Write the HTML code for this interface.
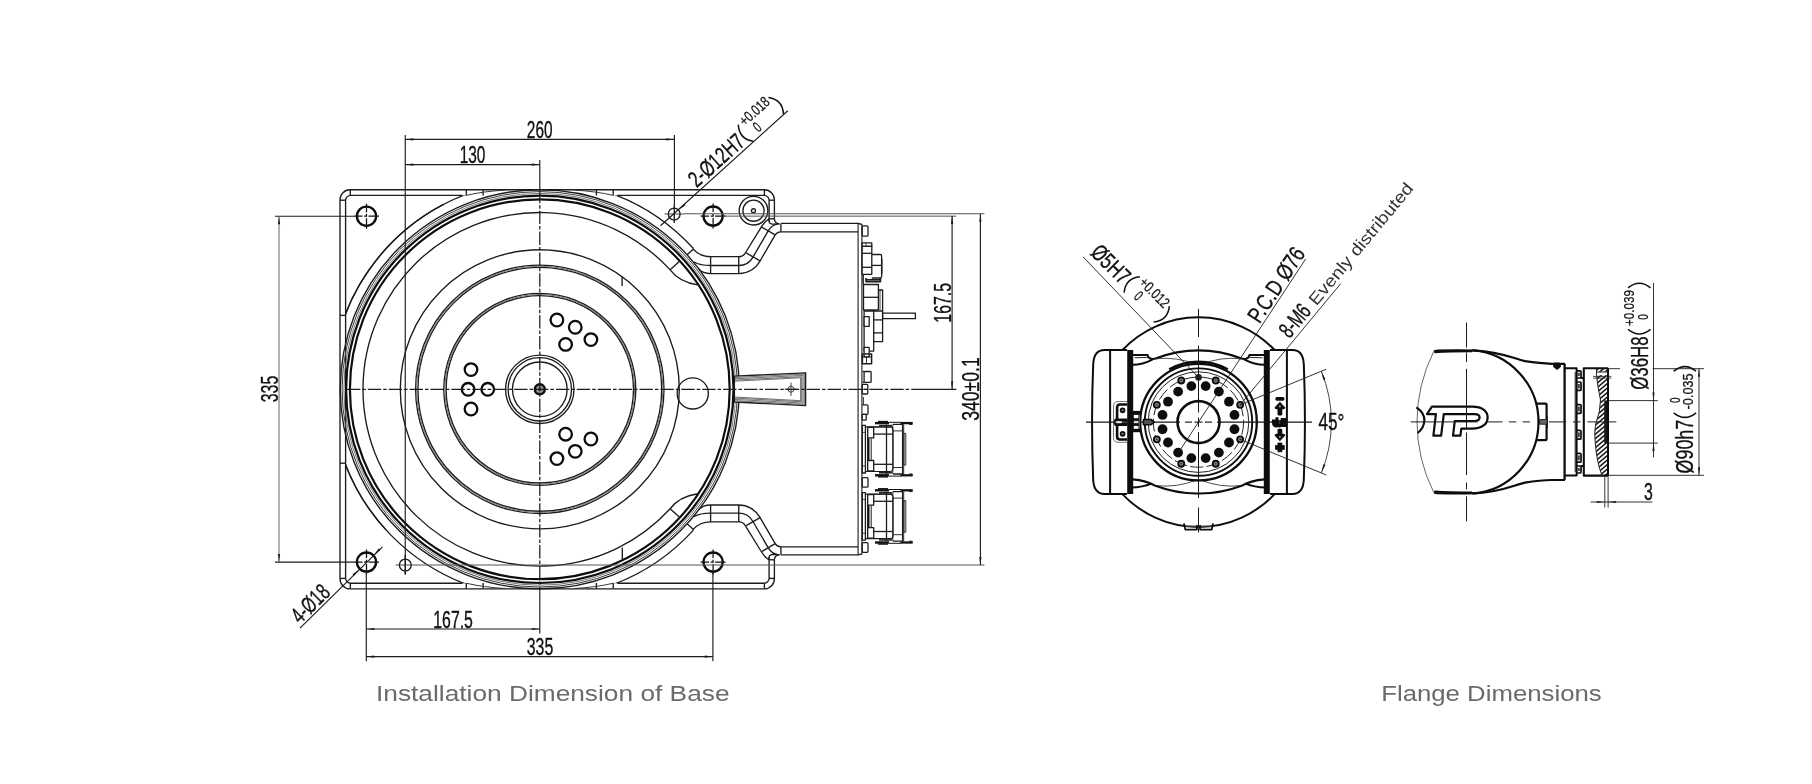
<!DOCTYPE html>
<html><head><meta charset="utf-8"><title>Dimensions</title>
<style>
html,body{margin:0;padding:0;background:#fff;}
body{width:1812px;height:784px;overflow:hidden;font-family:"Liberation Sans",sans-serif;}
svg{display:block;will-change:transform;}
</style></head><body>
<svg width="1812" height="784" viewBox="0 0 1812 784" stroke-linecap="butt" stroke-linejoin="round">
<rect x="0" y="0" width="1812" height="784" fill="#ffffff"/>
<g id="base" fill="none">
<path d="M774.4 218.8 V199.75 A10 10 0 0 0 764.4 189.75 H350 A10 10 0 0 0 340 199.75 V578.85 A10 10 0 0 0 350 588.85 H764.4 A10 10 0 0 0 774.4 578.85 V559.8" stroke="#1c1c1c" stroke-width="1.35" fill="none" />
<path d="M769.1 221.6 V200.4 A5 5 0 0 0 764.1 195.4 H617.3" stroke="#1c1c1c" stroke-width="1.35" fill="none" />
<path d="M462.5 195.4 H350.6 A5 5 0 0 0 345.6 200.4 V578.2 A5 5 0 0 0 350.6 583.2 H462.5" stroke="#1c1c1c" stroke-width="1.35" fill="none" />
<path d="M617.3 583.2 H764.1 A5 5 0 0 0 769.1 578.2 V557" stroke="#1c1c1c" stroke-width="1.35" fill="none" />
<line x1="350.3" y1="189.75" x2="350.3" y2="195.4" stroke="#1c1c1c" stroke-width="1.35" />
<line x1="764.4" y1="189.75" x2="764.4" y2="195.4" stroke="#1c1c1c" stroke-width="1.35" />
<line x1="350.3" y1="583.2" x2="350.3" y2="588.85" stroke="#1c1c1c" stroke-width="1.35" />
<line x1="764.4" y1="583.2" x2="764.4" y2="588.85" stroke="#1c1c1c" stroke-width="1.35" />
<line x1="340" y1="200.2" x2="345.6" y2="200.2" stroke="#1c1c1c" stroke-width="1.35" />
<line x1="340" y1="578.4" x2="345.6" y2="578.4" stroke="#1c1c1c" stroke-width="1.35" />
<line x1="769.1" y1="200.2" x2="774.4" y2="200.2" stroke="#1c1c1c" stroke-width="1.35" />
<line x1="769.1" y1="578.4" x2="774.4" y2="578.4" stroke="#1c1c1c" stroke-width="1.35" />
<line x1="769.1" y1="218.8" x2="774.4" y2="218.8" stroke="#1c1c1c" stroke-width="1.35" />
<line x1="769.1" y1="559.8" x2="774.4" y2="559.8" stroke="#1c1c1c" stroke-width="1.35" />
<line x1="340" y1="315.4" x2="345.6" y2="315.4" stroke="#1c1c1c" stroke-width="1.35" />
<line x1="340" y1="463.2" x2="345.6" y2="463.2" stroke="#1c1c1c" stroke-width="1.35" />
<line x1="466.3" y1="189.75" x2="466.3" y2="195.6" stroke="#1c1c1c" stroke-width="1.35" />
<line x1="466.3" y1="583" x2="466.3" y2="588.85" stroke="#1c1c1c" stroke-width="1.35" />
<line x1="483.1" y1="189.75" x2="483.1" y2="195.6" stroke="#1c1c1c" stroke-width="1.35" />
<line x1="483.1" y1="583" x2="483.1" y2="588.85" stroke="#1c1c1c" stroke-width="1.35" />
<line x1="596.4" y1="189.75" x2="596.4" y2="195.6" stroke="#1c1c1c" stroke-width="1.35" />
<line x1="596.4" y1="583" x2="596.4" y2="588.85" stroke="#1c1c1c" stroke-width="1.35" />
<line x1="613.2" y1="189.75" x2="613.2" y2="195.6" stroke="#1c1c1c" stroke-width="1.35" />
<line x1="613.2" y1="583" x2="613.2" y2="588.85" stroke="#1c1c1c" stroke-width="1.35" />
<clipPath id="plateclip"><rect x="345.6" y="195.4" width="423.5" height="387.8"/></clipPath>
<g clip-path="url(#plateclip)">
<path d="M386.15 530.09A208.4 208.4 0 0 1 443.57 204.45" stroke="#1c1c1c" stroke-width="1.35" fill="none" />
<path d="M463.42 195.4A208.4 208.4 0 0 1 693.45 248.51" stroke="#1c1c1c" stroke-width="1.35" fill="none" />
<path d="M693.45 530.09A208.4 208.4 0 0 1 463.42 583.2" stroke="#1c1c1c" stroke-width="1.35" fill="none" />
<path d="M465.12 583.86A208.4 208.4 0 0 1 343.97 460.58" stroke="#1c1c1c" stroke-width="1.35" fill="none" />
<path d="M343.97 318.02A208.4 208.4 0 0 1 465.12 194.74" stroke="#1c1c1c" stroke-width="1.35" fill="none" />
</g>
<path d="M466.3 195.4 Q483.1 191.3 505.8 190.1" stroke="#3a3a3a" stroke-width="1.0" fill="none" />
<path d="M466.3 583.2 Q483.1 587.3 505.8 588.5" stroke="#3a3a3a" stroke-width="1.0" fill="none" />
<path d="M613.3 195.4 Q596.5 191.3 573.8 190.1" stroke="#3a3a3a" stroke-width="1.0" fill="none" />
<path d="M613.3 583.2 Q596.5 587.3 573.8 588.5" stroke="#3a3a3a" stroke-width="1.0" fill="none" />
<circle cx="539.8" cy="389.3" r="199.5" stroke="#1c1c1c" stroke-width="1.4" fill="none" />
<circle cx="539.8" cy="389.3" r="197.7" stroke="#3a3a3a" stroke-width="1.0" fill="none" />
<circle cx="539.8" cy="389.3" r="195.9" stroke="#555" stroke-width="0.8" fill="none" />
<circle cx="539.8" cy="389.3" r="193.7" stroke="#0e0e0e" stroke-width="2.2" fill="none" />
<circle cx="539.8" cy="389.3" r="189.9" stroke="#0e0e0e" stroke-width="2.2" fill="none" />
<path d="M670.15 508.74A176.8 176.8 0 1 1 670.15 269.86" stroke="#1c1c1c" stroke-width="1.35" fill="none" />
<path d="M670.15 269.86Q679.43 282.16 697.57 284.87" stroke="#1c1c1c" stroke-width="1.35" fill="none" />
<path d="M670.15 508.74Q679.43 496.44 697.57 493.73" stroke="#1c1c1c" stroke-width="1.35" fill="none" />
<circle cx="539.8" cy="389.3" r="139.5" stroke="#1c1c1c" stroke-width="1.35" fill="none" />
<circle cx="539.8" cy="389.3" r="124.2" stroke="#1c1c1c" stroke-width="1.35" fill="none" />
<circle cx="539.8" cy="389.3" r="121.9" stroke="#1c1c1c" stroke-width="1.35" fill="none" />
<circle cx="539.8" cy="389.3" r="123.05" stroke="#777" stroke-width="1.0" fill="none" />
<circle cx="539.8" cy="389.3" r="96" stroke="#1c1c1c" stroke-width="1.35" fill="none" />
<circle cx="539.8" cy="389.3" r="93.7" stroke="#1c1c1c" stroke-width="1.35" fill="none" />
<circle cx="539.8" cy="389.3" r="94.85" stroke="#777" stroke-width="1.0" fill="none" />
<circle cx="539.8" cy="389.3" r="34.2" stroke="#1c1c1c" stroke-width="1.35" fill="none" />
<circle cx="539.8" cy="389.3" r="31.7" stroke="#1c1c1c" stroke-width="1.35" fill="none" />
<circle cx="539.8" cy="389.3" r="27.3" stroke="#1c1c1c" stroke-width="1.35" fill="none" />
<circle cx="539.8" cy="389.3" r="5.1" stroke="#0c0c0c" stroke-width="2.2" fill="#666" />
<circle cx="539.8" cy="389.3" r="2.7" stroke="#d0d0d0" stroke-width="0.9" fill="#4a4a4a" />
<circle cx="539.8" cy="389.3" r="1" stroke="#1c1c1c" stroke-width="0" fill="#ddd" />
<line x1="670.15" y1="508.74" x2="679.81" y2="517.59" stroke="#1c1c1c" stroke-width="1.35" />
<line x1="687.12" y1="523.82" x2="693.69" y2="529.82" stroke="#1c1c1c" stroke-width="1.35" />
<line x1="670.15" y1="269.86" x2="679.81" y2="261.01" stroke="#1c1c1c" stroke-width="1.35" />
<line x1="687.12" y1="254.78" x2="693.69" y2="248.78" stroke="#1c1c1c" stroke-width="1.35" />
<line x1="622.1" y1="276.5" x2="622.1" y2="286.1" stroke="#1c1c1c" stroke-width="1.35" />
<line x1="622.3" y1="547.6" x2="622.3" y2="559.2" stroke="#1c1c1c" stroke-width="1.35" />
<circle cx="556.9" cy="320" r="6.3" stroke="#0c0c0c" stroke-width="2.3" fill="none" />
<circle cx="575.25" cy="327.25" r="6.3" stroke="#0c0c0c" stroke-width="2.3" fill="none" />
<circle cx="590.9" cy="339.6" r="6.3" stroke="#0c0c0c" stroke-width="2.3" fill="none" />
<circle cx="565.6" cy="344.4" r="6.3" stroke="#0c0c0c" stroke-width="2.3" fill="none" />
<circle cx="556.9" cy="458.6" r="6.3" stroke="#0c0c0c" stroke-width="2.3" fill="none" />
<circle cx="575.25" cy="451.35" r="6.3" stroke="#0c0c0c" stroke-width="2.3" fill="none" />
<circle cx="590.9" cy="439" r="6.3" stroke="#0c0c0c" stroke-width="2.3" fill="none" />
<circle cx="565.6" cy="434.2" r="6.3" stroke="#0c0c0c" stroke-width="2.3" fill="none" />
<circle cx="471" cy="369.6" r="6.3" stroke="#0c0c0c" stroke-width="2.3" fill="none" />
<circle cx="468.1" cy="389.3" r="6.3" stroke="#0c0c0c" stroke-width="2.3" fill="none" />
<circle cx="487.75" cy="389.3" r="6.3" stroke="#0c0c0c" stroke-width="2.3" fill="none" />
<circle cx="471" cy="409" r="6.3" stroke="#0c0c0c" stroke-width="2.3" fill="none" />
<circle cx="692.75" cy="393.4" r="15.6" stroke="#1c1c1c" stroke-width="1.35" fill="none" />
<path d="M734.4 376.2 L805.6 372.8 V405.7 L734.4 402 Z" stroke="#1c1c1c" stroke-width="1.35" fill="#fff" />
<path d="M734.4 377.5 L804.3 374.1 V404.4 L734.4 400.7" stroke="#333" stroke-width="0.7" fill="none" />
<path d="M734.4 378.8 L803 375.4 V403.1 L734.4 399.4" stroke="#333" stroke-width="0.7" fill="none" />
<path d="M734.4 380.1 L801.7 376.7 V401.8 L734.4 398.1" stroke="#333" stroke-width="0.7" fill="none" />
<path d="M734.4 381.2 L800.6 377.8 V400.7 L734.4 397" stroke="#333" stroke-width="0.7" fill="none" />
<circle cx="791" cy="389.2" r="3" stroke="#1c1c1c" stroke-width="0.8" fill="none" />
<line x1="784.5" y1="389.2" x2="797.5" y2="389.2" stroke="#1c1c1c" stroke-width="0.8" />
<line x1="791" y1="382.5" x2="791" y2="396" stroke="#1c1c1c" stroke-width="0.8" />
<line x1="734.4" y1="376.2" x2="734.4" y2="402" stroke="#1c1c1c" stroke-width="1.2" />
<circle cx="366.5" cy="216.2" r="9.6" stroke="#0c0c0c" stroke-width="2.3" fill="none" />
<line x1="354" y1="216.2" x2="379" y2="216.2" stroke="#111" stroke-width="1.25" stroke-dasharray="8.5 1.6 2.8 1.6 11 0"/>
<line x1="366.5" y1="203.7" x2="366.5" y2="228.7" stroke="#111" stroke-width="1.25" stroke-dasharray="8.5 1.6 2.8 1.6 11 0"/>
<circle cx="713.1" cy="216.1" r="9.6" stroke="#0c0c0c" stroke-width="2.3" fill="none" />
<line x1="700.6" y1="216.1" x2="725.6" y2="216.1" stroke="#111" stroke-width="1.25" stroke-dasharray="8.5 1.6 2.8 1.6 11 0"/>
<line x1="713.1" y1="203.6" x2="713.1" y2="228.6" stroke="#111" stroke-width="1.25" stroke-dasharray="8.5 1.6 2.8 1.6 11 0"/>
<circle cx="366.5" cy="562.1" r="9.6" stroke="#0c0c0c" stroke-width="2.3" fill="none" />
<line x1="354" y1="562.1" x2="379" y2="562.1" stroke="#111" stroke-width="1.25" stroke-dasharray="8.5 1.6 2.8 1.6 11 0"/>
<line x1="366.5" y1="549.6" x2="366.5" y2="574.6" stroke="#111" stroke-width="1.25" stroke-dasharray="8.5 1.6 2.8 1.6 11 0"/>
<circle cx="713.1" cy="562.1" r="9.6" stroke="#0c0c0c" stroke-width="2.3" fill="none" />
<line x1="700.6" y1="562.1" x2="725.6" y2="562.1" stroke="#111" stroke-width="1.25" stroke-dasharray="8.5 1.6 2.8 1.6 11 0"/>
<line x1="713.1" y1="549.6" x2="713.1" y2="574.6" stroke="#111" stroke-width="1.25" stroke-dasharray="8.5 1.6 2.8 1.6 11 0"/>
<circle cx="674.2" cy="214" r="5.9" stroke="#1c1c1c" stroke-width="1.35" fill="none" />
<circle cx="405.3" cy="565" r="5.9" stroke="#1c1c1c" stroke-width="1.35" fill="none" />
<line x1="664.5" y1="214" x2="684" y2="214" stroke="#1c1c1c" stroke-width="0.8" />
<line x1="674.3" y1="204" x2="674.3" y2="223" stroke="#1c1c1c" stroke-width="1.35" />
<line x1="395.6" y1="565" x2="415" y2="565" stroke="#1c1c1c" stroke-width="0.8" />
<line x1="405.3" y1="555" x2="405.3" y2="574.6" stroke="#1c1c1c" stroke-width="1.35" />
<circle cx="753.5" cy="210.7" r="14.3" stroke="#1c1c1c" stroke-width="1.35" fill="none" />
<circle cx="753.5" cy="210.7" r="10.6" stroke="#1c1c1c" stroke-width="1.35" fill="none" />
<circle cx="753.5" cy="210.7" r="2" stroke="#1c1c1c" stroke-width="1.35" fill="none" />
<path d="M698.6 509.6 Q703 505 710.6 505 H738.75 A24.3 24.3 0 0 1 760.06 517.6 L775.2 543.7 Q777 546.8 780.9 546.8" stroke="#1c1c1c" stroke-width="1.35" fill="none" />
<path d="M693.9 516.6 Q700 513.1 710.6 513.1 H738.75 A16.2 16.2 0 0 1 752.96 521.5 L768.3 547.9 Q772 554.6 779.5 554.8" stroke="#1c1c1c" stroke-width="1.35" fill="none" />
<path d="M692.9 529.6 Q700 521.9 710.6 521.9 H738.75 A7.4 7.4 0 0 1 745.3 525.6 L761.4 551.75 Q765 557.6 769.1 559.8" stroke="#1c1c1c" stroke-width="1.35" fill="none" />
<path d="M774.4 559.8 Q774.6 555 779.5 554.8" stroke="#1c1c1c" stroke-width="1.35" fill="none" />
<path d="M769.1 559.8 V557.4 Q769.3 554.5 773 554.4 L777.5 554.8" stroke="#1c1c1c" stroke-width="1.35" fill="none" />
<line x1="710.6" y1="505" x2="710.6" y2="521.9" stroke="#1c1c1c" stroke-width="1.35" />
<line x1="738.75" y1="505" x2="738.75" y2="521.9" stroke="#1c1c1c" stroke-width="1.35" />
<line x1="746.1" y1="525.7" x2="760.5" y2="517.4" stroke="#1c1c1c" stroke-width="1.35" />
<line x1="761.4" y1="551.75" x2="775.2" y2="543.7" stroke="#1c1c1c" stroke-width="1.35" />
<line x1="780.9" y1="546.8" x2="780.9" y2="554.8" stroke="#1c1c1c" stroke-width="1.35" />
<g transform="matrix(1,0,0,-1,0,778.6)">
<path d="M698.6 509.6 Q703 505 710.6 505 H738.75 A24.3 24.3 0 0 1 760.06 517.6 L775.2 543.7 Q777 546.8 780.9 546.8" stroke="#1c1c1c" stroke-width="1.35" fill="none" />
<path d="M693.9 516.6 Q700 513.1 710.6 513.1 H738.75 A16.2 16.2 0 0 1 752.96 521.5 L768.3 547.9 Q772 554.6 779.5 554.8" stroke="#1c1c1c" stroke-width="1.35" fill="none" />
<path d="M692.9 529.6 Q700 521.9 710.6 521.9 H738.75 A7.4 7.4 0 0 1 745.3 525.6 L761.4 551.75 Q765 557.6 769.1 559.8" stroke="#1c1c1c" stroke-width="1.35" fill="none" />
<path d="M774.4 559.8 Q774.6 555 779.5 554.8" stroke="#1c1c1c" stroke-width="1.35" fill="none" />
<path d="M769.1 559.8 V557.4 Q769.3 554.5 773 554.4 L777.5 554.8" stroke="#1c1c1c" stroke-width="1.35" fill="none" />
<line x1="710.6" y1="505" x2="710.6" y2="521.9" stroke="#1c1c1c" stroke-width="1.35" />
<line x1="738.75" y1="505" x2="738.75" y2="521.9" stroke="#1c1c1c" stroke-width="1.35" />
<line x1="746.1" y1="525.7" x2="760.5" y2="517.4" stroke="#1c1c1c" stroke-width="1.35" />
<line x1="761.4" y1="551.75" x2="775.2" y2="543.7" stroke="#1c1c1c" stroke-width="1.35" />
<line x1="780.9" y1="546.8" x2="780.9" y2="554.8" stroke="#1c1c1c" stroke-width="1.35" />
</g>
<line x1="780.9" y1="223.3" x2="858.1" y2="223.3" stroke="#1c1c1c" stroke-width="1.35" />
<line x1="780.9" y1="231.8" x2="858.1" y2="231.8" stroke="#1c1c1c" stroke-width="1.35" />
<line x1="780.9" y1="546.8" x2="858.1" y2="546.8" stroke="#1c1c1c" stroke-width="1.35" />
<line x1="780.9" y1="554.8" x2="858.1" y2="554.8" stroke="#1c1c1c" stroke-width="1.35" />
<line x1="858.1" y1="222.8" x2="858.1" y2="555.3" stroke="#1c1c1c" stroke-width="1.1" />
<line x1="861.9" y1="224" x2="861.9" y2="554.5" stroke="#1c1c1c" stroke-width="1.1" />
<line x1="858.1" y1="223.3" x2="861.9" y2="224.5" stroke="#1c1c1c" stroke-width="1.35" />
<line x1="858.1" y1="554.8" x2="861.9" y2="553.8" stroke="#1c1c1c" stroke-width="1.35" />
<line x1="346.9" y1="389.3" x2="912" y2="389.3" stroke="#1c1c1c" stroke-width="1.25" stroke-dasharray="13.4 2 3.5 2"/>
<line x1="912" y1="389.3" x2="956.4" y2="389.3" stroke="#1c1c1c" stroke-width="1.15" />
<line x1="539.8" y1="189.75" x2="539.8" y2="590" stroke="#1c1c1c" stroke-width="1.25" stroke-dasharray="13.4 2 3.5 2"/>
<line x1="539.8" y1="590" x2="539.8" y2="633.5" stroke="#1c1c1c" stroke-width="1.15" />
<line x1="405.25" y1="135" x2="405.25" y2="574.6" stroke="#1c1c1c" stroke-width="1.15" />
<line x1="674.4" y1="135" x2="674.4" y2="204" stroke="#1c1c1c" stroke-width="1.15" />
<line x1="539.8" y1="160" x2="539.8" y2="189.75" stroke="#1c1c1c" stroke-width="1.15" />
<line x1="405.25" y1="139.4" x2="674.4" y2="139.4" stroke="#1c1c1c" stroke-width="1.15" />
<polygon points="405.25,139.4 413.25,138.3 413.25,140.5" fill="#1c1c1c"/>
<polygon points="674.4,139.4 666.4,140.5 666.4,138.3" fill="#1c1c1c"/>
<line x1="405.25" y1="164.6" x2="539.8" y2="164.6" stroke="#1c1c1c" stroke-width="1.15" />
<polygon points="405.25,164.6 413.25,163.5 413.25,165.7" fill="#1c1c1c"/>
<polygon points="539.8,164.6 531.8,165.7 531.8,163.5" fill="#1c1c1c"/>
<text transform="translate(539.7,138.4) rotate(0) scale(0.67,1)" font-family="Liberation Sans" font-size="23" font-weight="normal" text-anchor="middle" fill="#111" stroke="#111" stroke-width="0.35">260</text>
<text transform="translate(472.5,163.4) rotate(0) scale(0.67,1)" font-family="Liberation Sans" font-size="23" font-weight="normal" text-anchor="middle" fill="#111" stroke="#111" stroke-width="0.35">130</text>
<line x1="275" y1="216.2" x2="354" y2="216.2" stroke="#1c1c1c" stroke-width="1.15" />
<line x1="275" y1="562.1" x2="354" y2="562.1" stroke="#1c1c1c" stroke-width="1.15" />
<line x1="279" y1="216.2" x2="279" y2="562.1" stroke="#555" stroke-width="0.9" />
<polygon points="279,216.2 280.1,224.2 277.9,224.2" fill="#1c1c1c"/>
<polygon points="279,562.1 277.9,554.1 280.1,554.1" fill="#1c1c1c"/>
<text transform="translate(277.6,389) rotate(-90) scale(0.69,1)" font-family="Liberation Sans" font-size="23" font-weight="normal" text-anchor="middle" fill="#111" stroke="#111" stroke-width="0.35">335</text>
<line x1="366.3" y1="571" x2="366.3" y2="661.3" stroke="#1c1c1c" stroke-width="1.15" />
<line x1="712.9" y1="571" x2="712.9" y2="661.3" stroke="#1c1c1c" stroke-width="1.15" />
<line x1="366.3" y1="629" x2="539.8" y2="629" stroke="#1c1c1c" stroke-width="1.15" />
<polygon points="366.3,629 374.3,627.9 374.3,630.1" fill="#1c1c1c"/>
<polygon points="539.8,629 531.8,630.1 531.8,627.9" fill="#1c1c1c"/>
<line x1="366.3" y1="656.6" x2="712.9" y2="656.6" stroke="#1c1c1c" stroke-width="1.15" />
<polygon points="366.3,656.6 374.3,655.5 374.3,657.7" fill="#1c1c1c"/>
<polygon points="712.9,656.6 704.9,657.7 704.9,655.5" fill="#1c1c1c"/>
<text transform="translate(453.1,627.6) rotate(0) scale(0.69,1)" font-family="Liberation Sans" font-size="23" font-weight="normal" text-anchor="middle" fill="#111" stroke="#111" stroke-width="0.35">167.5</text>
<text transform="translate(540,655.4) rotate(0) scale(0.69,1)" font-family="Liberation Sans" font-size="23" font-weight="normal" text-anchor="middle" fill="#111" stroke="#111" stroke-width="0.35">335</text>
<line x1="684" y1="213.75" x2="984.4" y2="213.75" stroke="#555" stroke-width="1.0" />
<line x1="723" y1="216.15" x2="956.3" y2="216.15" stroke="#555" stroke-width="1.0" />
<line x1="415" y1="565" x2="984.4" y2="565" stroke="#555" stroke-width="1.0" />
<line x1="952.1" y1="216.1" x2="952.1" y2="389.3" stroke="#1c1c1c" stroke-width="1.15" />
<polygon points="952.1,216.1 953.2,224.1 951,224.1" fill="#1c1c1c"/>
<polygon points="952.1,389.3 951,381.3 953.2,381.3" fill="#1c1c1c"/>
<line x1="980.4" y1="213.75" x2="980.4" y2="565" stroke="#1c1c1c" stroke-width="1.15" />
<polygon points="980.4,213.75 981.5,221.75 979.3,221.75" fill="#1c1c1c"/>
<polygon points="980.4,565 979.3,557 981.5,557" fill="#1c1c1c"/>
<text transform="translate(950.6,302.8) rotate(-90) scale(0.69,1)" font-family="Liberation Sans" font-size="23" font-weight="normal" text-anchor="middle" fill="#111" stroke="#111" stroke-width="0.35">167.5</text>
<text transform="translate(978.8,389) rotate(-90) scale(1,1)" font-family="Liberation Sans" font-size="23" font-weight="normal" text-anchor="middle" fill="#111" stroke="#111" stroke-width="0.35" textLength="63.5" lengthAdjust="spacingAndGlyphs">340±0.1</text>
<line x1="660.5" y1="225.7" x2="787.8" y2="110.8" stroke="#1c1c1c" stroke-width="1.15" />
<polygon points="678.8,209.85 684,203.67 685.48,205.3" fill="#1c1c1c"/>
<g transform="translate(696.82,188.33) rotate(-42.07)" font-family="Liberation Sans" fill="#111" stroke="#111">
<text x="0" y="0" font-size="23" stroke-width="0.35" textLength="66.5" lengthAdjust="spacingAndGlyphs">2-Ø12H7</text>
<path d="M73.5 -19.5 Q64.3 -8.3 73.5 2.9" stroke-width="1.5" fill="none"/>
<text x="76.9" y="-13.6" font-size="15" stroke-width="0.25" textLength="35" lengthAdjust="spacingAndGlyphs">+0.018</text>
<text x="83.03" y="0" font-size="15" stroke-width="0.25" textLength="5.6" lengthAdjust="spacingAndGlyphs">0</text>
<path d="M114.1 -19.5 Q123.3 -8.3 114.1 2.9" stroke-width="1.5" fill="none"/>
</g>
<line x1="382.5" y1="546.9" x2="300" y2="628.1" stroke="#1c1c1c" stroke-width="1.15" />
<polygon points="373.99,554.74 378.92,548.35 380.47,549.92" fill="#1c1c1c"/>
<polygon points="359.01,569.46 354.08,575.85 352.53,574.28" fill="#1c1c1c"/>
<text transform="translate(300,624.6) rotate(-44.5) scale(0.69,1)" font-family="Liberation Sans" font-size="23" font-weight="normal" text-anchor="start" fill="#111" stroke="#111" stroke-width="0.35">4-Ø18</text>
<rect x="862.2" y="225.9" width="5.8" height="10.3" rx="1" stroke="#1c1c1c" stroke-width="1.3" fill="none"/>
<rect x="862" y="242.8" width="9.8" height="3.5" rx="0" stroke="#1c1c1c" stroke-width="1.3" fill="none"/>
<line x1="866" y1="242.8" x2="866" y2="246.3" stroke="#1c1c1c" stroke-width="0.8" />
<rect x="862" y="246.3" width="9.8" height="28" rx="0" stroke="#1c1c1c" stroke-width="1.3" fill="none"/>
<line x1="862" y1="253.3" x2="871.8" y2="253.3" stroke="#1c1c1c" stroke-width="1.3" />
<line x1="862" y1="267.3" x2="871.8" y2="267.3" stroke="#1c1c1c" stroke-width="1.3" />
<path d="M871.8 254.5 H880.3 Q881.6 254.5 881.6 256 V276.5 Q881.6 278 880.3 278 H871.8" stroke="#1c1c1c" stroke-width="1.3" fill="none" />
<line x1="871.8" y1="265.4" x2="881.6" y2="265.4" stroke="#1c1c1c" stroke-width="1.3" />
<line x1="881.9" y1="259" x2="881.9" y2="274" stroke="#1c1c1c" stroke-width="1.2" />
<path d="M866 278 V281.6 H880.5 V278" stroke="#1c1c1c" stroke-width="1.6" fill="none" />
<line x1="866" y1="279.8" x2="880.5" y2="279.8" stroke="#1c1c1c" stroke-width="1.6" />
<line x1="863.2" y1="275" x2="863.2" y2="284" stroke="#1c1c1c" stroke-width="1.4" />
<rect x="863.5" y="284.5" width="14.9" height="25.5" rx="0" stroke="#1c1c1c" stroke-width="1.3" fill="none"/>
<line x1="863.5" y1="297.3" x2="878.4" y2="297.3" stroke="#1c1c1c" stroke-width="1.3" />
<path d="M878.4 290 H882.6 V311" stroke="#1c1c1c" stroke-width="1.3" fill="none" />
<line x1="880" y1="290" x2="880" y2="310" stroke="#1c1c1c" stroke-width="0.8" />
<rect x="873.7" y="311" width="8.9" height="30.6" rx="0" stroke="#1c1c1c" stroke-width="1.3" fill="none"/>
<line x1="873.7" y1="319.9" x2="882.6" y2="319.9" stroke="#1c1c1c" stroke-width="1.3" />
<line x1="873.7" y1="332.9" x2="882.6" y2="332.9" stroke="#1c1c1c" stroke-width="1.3" />
<path d="M873.7 311 H864.1 V351.1 H873.7 V341.6" stroke="#1c1c1c" stroke-width="1.3" fill="none" />
<rect x="864.1" y="316.7" width="5.1" height="9.6" rx="0" stroke="#1c1c1c" stroke-width="1.3" fill="#fff"/>
<rect x="882.6" y="313.2" width="32.8" height="5.4" rx="0" stroke="#1c1c1c" stroke-width="1.3" fill="none"/>
<rect x="864.1" y="347.3" width="5.1" height="9.6" rx="0" stroke="#1c1c1c" stroke-width="1.3" fill="#fff"/>
<rect x="862.4" y="353.9" width="9.2" height="9.8" rx="0" stroke="#1c1c1c" stroke-width="1.5" fill="none"/>
<line x1="866.5" y1="357" x2="866.5" y2="363.7" stroke="#1c1c1c" stroke-width="0.9" />
<line x1="862.4" y1="357" x2="871.6" y2="357" stroke="#1c1c1c" stroke-width="0.9" />
<rect x="864.1" y="371.5" width="7" height="10.9" rx="1" stroke="#1c1c1c" stroke-width="1.3" fill="none"/>
<line x1="862.6" y1="371.5" x2="864.1" y2="371.5" stroke="#1c1c1c" stroke-width="1.35" />
<line x1="862.6" y1="382.4" x2="864.1" y2="382.4" stroke="#1c1c1c" stroke-width="1.35" />
<rect x="862.2" y="384.4" width="5.6" height="9.6" rx="1" stroke="#1c1c1c" stroke-width="1.3" fill="none"/>
<line x1="862.2" y1="389.3" x2="867.8" y2="389.3" stroke="#1c1c1c" stroke-width="0.8" />
<path d="M862.2 404.9 H866.8 Q868 404.9 868 406.2 V413.2 Q868 414.4 866.8 414.4 H862.2" stroke="#1c1c1c" stroke-width="1.3" fill="none" />
<rect x="862.2" y="414.4" width="4" height="5.8" rx="0.8" stroke="#1c1c1c" stroke-width="1.3" fill="none"/>
<line x1="863.4" y1="397" x2="863.4" y2="404.9" stroke="#1c1c1c" stroke-width="0.9" />
<line x1="875" y1="423.1" x2="889" y2="423.1" stroke="#111" stroke-width="2.4" />
<line x1="875" y1="475.3" x2="889" y2="475.3" stroke="#111" stroke-width="2.4" />
<line x1="889" y1="422.3" x2="901" y2="422.3" stroke="#111" stroke-width="1.0" />
<line x1="889" y1="476.1" x2="901" y2="476.1" stroke="#111" stroke-width="1.0" />
<line x1="900.5" y1="423.1" x2="912" y2="423.1" stroke="#111" stroke-width="2.3" />
<line x1="900.5" y1="475.3" x2="912" y2="475.3" stroke="#111" stroke-width="2.3" />
<line x1="878" y1="421.6" x2="888" y2="421.6" stroke="#111" stroke-width="1.5" />
<line x1="878" y1="476.8" x2="888" y2="476.8" stroke="#111" stroke-width="1.5" />
<path d="M909 424.4 L912.3 424.4 L912.3 422" stroke="#1c1c1c" stroke-width="1.0" fill="none" />
<path d="M909 474 L912.3 474 L912.3 476.4" stroke="#1c1c1c" stroke-width="1.0" fill="none" />
<line x1="879" y1="425.6" x2="892" y2="425.6" stroke="#222" stroke-width="1.6" />
<line x1="879" y1="472.8" x2="892" y2="472.8" stroke="#222" stroke-width="1.6" />
<rect x="862.3" y="425.4" width="3.1" height="47.6" rx="0" stroke="#1c1c1c" stroke-width="1.3" fill="none"/>
<path d="M865.4 426.9 H890 Q893 426.9 893 430.4 V468 Q893 471.5 890 471.5 H865.4" stroke="#1c1c1c" stroke-width="1.2" fill="none" />
<line x1="867.7" y1="426.9" x2="867.7" y2="471.5" stroke="#1c1c1c" stroke-width="1.3" />
<line x1="886.5" y1="424.4" x2="886.5" y2="474" stroke="#1c1c1c" stroke-width="1.3" />
<line x1="892.8" y1="424.4" x2="892.8" y2="474" stroke="#1c1c1c" stroke-width="0.9" />
<path d="M893 424.4 H902.6 V474 H893" stroke="#1c1c1c" stroke-width="1.3" fill="none" />
<line x1="903.7" y1="424.4" x2="903.7" y2="474" stroke="#1c1c1c" stroke-width="0.9" />
<line x1="893" y1="430.9" x2="902.6" y2="430.9" stroke="#1c1c1c" stroke-width="0.9" />
<line x1="893" y1="467.5" x2="902.6" y2="467.5" stroke="#1c1c1c" stroke-width="0.9" />
<rect x="904" y="433.4" width="1.8" height="31.6" rx="0" stroke="#1c1c1c" stroke-width="0.9" fill="none"/>
<line x1="873.7" y1="434.1" x2="892.8" y2="434.1" stroke="#1c1c1c" stroke-width="1.3" />
<line x1="873.7" y1="464.3" x2="892.8" y2="464.3" stroke="#1c1c1c" stroke-width="1.3" />
<line x1="867.7" y1="427.1" x2="892.8" y2="427.1" stroke="#1c1c1c" stroke-width="0.9" />
<rect x="867.7" y="427.4" width="6" height="10.5" rx="0" stroke="#1c1c1c" stroke-width="1.3" fill="#fff"/>
<rect x="867.7" y="460.5" width="6" height="10.5" rx="0" stroke="#1c1c1c" stroke-width="1.3" fill="#fff"/>
<line x1="868.7" y1="438.4" x2="868.7" y2="460" stroke="#111" stroke-width="1.6" />
<line x1="871.2" y1="438.4" x2="871.2" y2="460" stroke="#1c1c1c" stroke-width="1.0" />
<line x1="862.3" y1="432.4" x2="865.4" y2="432.4" stroke="#1c1c1c" stroke-width="0.8" />
<line x1="862.3" y1="466" x2="865.4" y2="466" stroke="#1c1c1c" stroke-width="0.8" />
<rect x="862.2" y="477.7" width="5.8" height="9.5" rx="1" stroke="#1c1c1c" stroke-width="1.3" fill="none"/>
<line x1="875" y1="490.3" x2="889" y2="490.3" stroke="#111" stroke-width="2.4" />
<line x1="875" y1="542.5" x2="889" y2="542.5" stroke="#111" stroke-width="2.4" />
<line x1="889" y1="489.5" x2="901" y2="489.5" stroke="#111" stroke-width="1.0" />
<line x1="889" y1="543.3" x2="901" y2="543.3" stroke="#111" stroke-width="1.0" />
<line x1="900.5" y1="490.3" x2="912" y2="490.3" stroke="#111" stroke-width="2.3" />
<line x1="900.5" y1="542.5" x2="912" y2="542.5" stroke="#111" stroke-width="2.3" />
<line x1="878" y1="488.8" x2="888" y2="488.8" stroke="#111" stroke-width="1.5" />
<line x1="878" y1="544" x2="888" y2="544" stroke="#111" stroke-width="1.5" />
<path d="M909 491.6 L912.3 491.6 L912.3 489.2" stroke="#1c1c1c" stroke-width="1.0" fill="none" />
<path d="M909 541.2 L912.3 541.2 L912.3 543.6" stroke="#1c1c1c" stroke-width="1.0" fill="none" />
<line x1="879" y1="492.8" x2="892" y2="492.8" stroke="#222" stroke-width="1.6" />
<line x1="879" y1="540" x2="892" y2="540" stroke="#222" stroke-width="1.6" />
<rect x="862.3" y="492.6" width="3.1" height="47.6" rx="0" stroke="#1c1c1c" stroke-width="1.3" fill="none"/>
<path d="M865.4 494.1 H890 Q893 494.1 893 497.6 V535.2 Q893 538.7 890 538.7 H865.4" stroke="#1c1c1c" stroke-width="1.2" fill="none" />
<line x1="867.7" y1="494.1" x2="867.7" y2="538.7" stroke="#1c1c1c" stroke-width="1.3" />
<line x1="886.5" y1="491.6" x2="886.5" y2="541.2" stroke="#1c1c1c" stroke-width="1.3" />
<line x1="892.8" y1="491.6" x2="892.8" y2="541.2" stroke="#1c1c1c" stroke-width="0.9" />
<path d="M893 491.6 H902.6 V541.2 H893" stroke="#1c1c1c" stroke-width="1.3" fill="none" />
<line x1="903.7" y1="491.6" x2="903.7" y2="541.2" stroke="#1c1c1c" stroke-width="0.9" />
<line x1="893" y1="498.1" x2="902.6" y2="498.1" stroke="#1c1c1c" stroke-width="0.9" />
<line x1="893" y1="534.7" x2="902.6" y2="534.7" stroke="#1c1c1c" stroke-width="0.9" />
<rect x="904" y="500.6" width="1.8" height="31.6" rx="0" stroke="#1c1c1c" stroke-width="0.9" fill="none"/>
<line x1="873.7" y1="501.3" x2="892.8" y2="501.3" stroke="#1c1c1c" stroke-width="1.3" />
<line x1="873.7" y1="531.5" x2="892.8" y2="531.5" stroke="#1c1c1c" stroke-width="1.3" />
<line x1="867.7" y1="494.3" x2="892.8" y2="494.3" stroke="#1c1c1c" stroke-width="0.9" />
<rect x="867.7" y="494.6" width="6" height="10.5" rx="0" stroke="#1c1c1c" stroke-width="1.3" fill="#fff"/>
<rect x="867.7" y="527.7" width="6" height="10.5" rx="0" stroke="#1c1c1c" stroke-width="1.3" fill="#fff"/>
<line x1="868.7" y1="505.6" x2="868.7" y2="527.2" stroke="#111" stroke-width="1.6" />
<line x1="871.2" y1="505.6" x2="871.2" y2="527.2" stroke="#1c1c1c" stroke-width="1.0" />
<line x1="862.3" y1="499.6" x2="865.4" y2="499.6" stroke="#1c1c1c" stroke-width="0.8" />
<line x1="862.3" y1="533.2" x2="865.4" y2="533.2" stroke="#1c1c1c" stroke-width="0.8" />
<rect x="862.2" y="542.6" width="5.8" height="9.7" rx="1" stroke="#1c1c1c" stroke-width="1.3" fill="none"/>
</g>
<g id="flange" fill="none">
<path d="M1122.44 350 A104.8 104.8 0 0 1 1274.56 350" stroke="#0d0d0d" stroke-width="2.0" fill="none" />
<path d="M1122.16 493.9 A104.8 104.8 0 0 0 1274.84 493.9" stroke="#0d0d0d" stroke-width="2.0" fill="none" />
<path d="M1127 350 H1104.5 Q1094 350 1093.2 364 Q1090.9 422 1093.2 480 Q1094 493.9 1104.5 493.9 H1127" stroke="#0d0d0d" stroke-width="2.0" fill="none" />
<line x1="1130.2" y1="350" x2="1130.2" y2="493.9" stroke="#0d0d0d" stroke-width="6.0" />
<line x1="1110.1" y1="350" x2="1110.1" y2="493.9" stroke="#0d0d0d" stroke-width="2.0" />
<path d="M1270 350 H1292.5 Q1303 350 1303.8 364 Q1306.1 422 1303.8 480 Q1303 493.9 1292.5 493.9 H1270" stroke="#0d0d0d" stroke-width="2.0" fill="none" />
<line x1="1266.8" y1="350" x2="1266.8" y2="493.9" stroke="#0d0d0d" stroke-width="6.0" />
<line x1="1286.9" y1="350" x2="1286.9" y2="493.9" stroke="#0d0d0d" stroke-width="2.0" />
<path d="M1132.5 355 H1147.5 L1148.7 357.6 Q1152 359.8 1155.5 358.6 Q1176.5 350.4 1198.5 350.4 Q1220.5 350.4 1241.5 358.6 Q1245 359.8 1248.3 357.6 L1249.5 355 H1264.5" stroke="#0d0d0d" stroke-width="2.1" fill="none" />
<path d="M1132.5 364.8 Q1142.5 364.6 1152.5 359.6" stroke="#0d0d0d" stroke-width="2.0" fill="none" />
<path d="M1147.5 357.4 L1134.5 357.8" stroke="#0d0d0d" stroke-width="0.9" fill="none" />
<path d="M1155.5 358.8 Q1176.5 356.5 1196.5 364.5" stroke="#222" stroke-width="0.8" fill="none" />
<path d="M1264.5 364.8 Q1254.5 364.6 1244.5 359.6" stroke="#0d0d0d" stroke-width="2.0" fill="none" />
<path d="M1249.5 357.4 L1262.5 357.8" stroke="#0d0d0d" stroke-width="0.9" fill="none" />
<path d="M1241.5 358.8 Q1220.5 356.5 1200.5 364.5" stroke="#222" stroke-width="0.8" fill="none" />
<path d="M1132.5 479.4 Q1146.5 480.6 1155.5 485.8 Q1176.5 493.8 1198.5 493.5 Q1220.5 493.8 1241.5 485.8 Q1250.5 480.6 1264.5 479.4" stroke="#0d0d0d" stroke-width="2.1" fill="none" />
<path d="M1131.5 487.6 Q1142.5 487.2 1151.5 483.6" stroke="#0d0d0d" stroke-width="2.0" fill="none" />
<path d="M1155.5 485.6 Q1176.5 488 1196.5 480" stroke="#222" stroke-width="0.8" fill="none" />
<path d="M1265.5 487.6 Q1254.5 487.2 1245.5 483.6" stroke="#0d0d0d" stroke-width="2.0" fill="none" />
<path d="M1241.5 485.6 Q1220.5 488 1200.5 480" stroke="#222" stroke-width="0.8" fill="none" />
<circle cx="1198.5" cy="422.1" r="58.3" stroke="#0d0d0d" stroke-width="2.3" fill="none" />
<circle cx="1198.5" cy="422.1" r="53.7" stroke="#0d0d0d" stroke-width="1.9" fill="none" />
<circle cx="1198.5" cy="422.1" r="50.3" stroke="#0d0d0d" stroke-width="0.9" fill="none" />
<path d="M1169.22 369.27A60.4 60.4 0 0 1 1227.78 369.27" stroke="#0d0d0d" stroke-width="2.4" fill="none" />
<circle cx="1198.5" cy="422.1" r="45.1" stroke="#0d0d0d" stroke-width="0.9" fill="none" stroke-dasharray="13 3.5"/>
<circle cx="1198.5" cy="422.1" r="21" stroke="#0d0d0d" stroke-width="2.6" fill="none" />
<circle cx="1234.49" cy="429.26" r="4.9" stroke="#0d0d0d" stroke-width="0" fill="#0d0d0d" />
<circle cx="1229.01" cy="442.49" r="4.9" stroke="#0d0d0d" stroke-width="0" fill="#0d0d0d" />
<circle cx="1218.89" cy="452.61" r="4.9" stroke="#0d0d0d" stroke-width="0" fill="#0d0d0d" />
<circle cx="1205.66" cy="458.09" r="4.9" stroke="#0d0d0d" stroke-width="0" fill="#0d0d0d" />
<circle cx="1191.34" cy="458.09" r="4.9" stroke="#0d0d0d" stroke-width="0" fill="#0d0d0d" />
<circle cx="1178.11" cy="452.61" r="4.9" stroke="#0d0d0d" stroke-width="0" fill="#0d0d0d" />
<circle cx="1167.99" cy="442.49" r="4.9" stroke="#0d0d0d" stroke-width="0" fill="#0d0d0d" />
<circle cx="1162.51" cy="429.26" r="4.9" stroke="#0d0d0d" stroke-width="0" fill="#0d0d0d" />
<circle cx="1162.51" cy="414.94" r="4.9" stroke="#0d0d0d" stroke-width="0" fill="#0d0d0d" />
<circle cx="1167.99" cy="401.71" r="4.9" stroke="#0d0d0d" stroke-width="0" fill="#0d0d0d" />
<circle cx="1178.11" cy="391.59" r="4.9" stroke="#0d0d0d" stroke-width="0" fill="#0d0d0d" />
<circle cx="1191.34" cy="386.11" r="4.9" stroke="#0d0d0d" stroke-width="0" fill="#0d0d0d" />
<circle cx="1205.66" cy="386.11" r="4.9" stroke="#0d0d0d" stroke-width="0" fill="#0d0d0d" />
<circle cx="1218.89" cy="391.59" r="4.9" stroke="#0d0d0d" stroke-width="0" fill="#0d0d0d" />
<circle cx="1229.01" cy="401.71" r="4.9" stroke="#0d0d0d" stroke-width="0" fill="#0d0d0d" />
<circle cx="1234.49" cy="414.94" r="4.9" stroke="#0d0d0d" stroke-width="0" fill="#0d0d0d" />
<circle cx="1240.17" cy="439.36" r="3" stroke="#0d0d0d" stroke-width="1.9" fill="#8a8a8a" />
<circle cx="1240.17" cy="439.36" r="0.9" stroke="#0d0d0d" stroke-width="0" fill="#333" />
<circle cx="1215.76" cy="463.77" r="3" stroke="#0d0d0d" stroke-width="1.9" fill="#8a8a8a" />
<circle cx="1215.76" cy="463.77" r="0.9" stroke="#0d0d0d" stroke-width="0" fill="#333" />
<circle cx="1181.24" cy="463.77" r="3" stroke="#0d0d0d" stroke-width="1.9" fill="#8a8a8a" />
<circle cx="1181.24" cy="463.77" r="0.9" stroke="#0d0d0d" stroke-width="0" fill="#333" />
<circle cx="1156.83" cy="439.36" r="3" stroke="#0d0d0d" stroke-width="1.9" fill="#8a8a8a" />
<circle cx="1156.83" cy="439.36" r="0.9" stroke="#0d0d0d" stroke-width="0" fill="#333" />
<circle cx="1156.83" cy="404.84" r="3" stroke="#0d0d0d" stroke-width="1.9" fill="#8a8a8a" />
<circle cx="1156.83" cy="404.84" r="0.9" stroke="#0d0d0d" stroke-width="0" fill="#333" />
<circle cx="1181.24" cy="380.43" r="3" stroke="#0d0d0d" stroke-width="1.9" fill="#8a8a8a" />
<circle cx="1181.24" cy="380.43" r="0.9" stroke="#0d0d0d" stroke-width="0" fill="#333" />
<circle cx="1215.76" cy="380.43" r="3" stroke="#0d0d0d" stroke-width="1.9" fill="#8a8a8a" />
<circle cx="1215.76" cy="380.43" r="0.9" stroke="#0d0d0d" stroke-width="0" fill="#333" />
<circle cx="1240.17" cy="404.84" r="3" stroke="#0d0d0d" stroke-width="1.9" fill="#8a8a8a" />
<circle cx="1240.17" cy="404.84" r="0.9" stroke="#0d0d0d" stroke-width="0" fill="#333" />
<circle cx="1198.5" cy="377.4" r="3.3" stroke="#0d0d0d" stroke-width="0" fill="#222" />
<line x1="1086" y1="422.1" x2="1180" y2="422.1" stroke="#141414" stroke-width="1.15" />
<line x1="1185" y1="422.1" x2="1192" y2="422.1" stroke="#141414" stroke-width="1.15" />
<line x1="1194.5" y1="422.1" x2="1202.5" y2="422.1" stroke="#141414" stroke-width="1.15" />
<line x1="1205" y1="422.1" x2="1212" y2="422.1" stroke="#141414" stroke-width="1.15" />
<line x1="1217" y1="422.1" x2="1311.9" y2="422.1" stroke="#141414" stroke-width="1.15" />
<line x1="1198.5" y1="308.8" x2="1198.5" y2="337" stroke="#161616" stroke-width="1.05" />
<line x1="1198.5" y1="345.6" x2="1198.5" y2="412.5" stroke="#161616" stroke-width="1.05" />
<line x1="1198.5" y1="417.5" x2="1198.5" y2="427" stroke="#161616" stroke-width="1.05" />
<line x1="1198.5" y1="432" x2="1198.5" y2="498" stroke="#161616" stroke-width="1.05" />
<line x1="1198.5" y1="507.5" x2="1198.5" y2="532.5" stroke="#161616" stroke-width="1.05" />
<path d="M1127 401.5 H1118 Q1113.5 401.5 1113.5 406 V437.8 Q1113.5 442.3 1118 442.3 H1127" stroke="#777" stroke-width="1.0" fill="none" />
<path d="M1127 404.5 H1120 Q1117.1 404.5 1117.1 407.5 V436.5 Q1117.1 439.5 1120 439.5 H1127" stroke="#0d0d0d" stroke-width="2.6" fill="none" />
<path d="M1113.2 422.2 L1115 418.6 H1127.5 V425.9 H1115 Z" fill="#0d0d0d"/>
<ellipse cx="1118.9" cy="422.2" rx="3.3" ry="1.1" fill="#e8e8e8"/>
<line x1="1122.2" y1="422.2" x2="1127" y2="422.2" stroke="#444" stroke-width="1.6" />
<circle cx="1122.6" cy="410.3" r="2" stroke="#0d0d0d" stroke-width="1.7" fill="#777" />
<circle cx="1122.6" cy="433.8" r="2" stroke="#0d0d0d" stroke-width="1.7" fill="#777" />
<rect x="1133" y="410.9" width="7.6" height="21.3" fill="#0d0d0d"/>
<rect x="1133.8" y="414.9" width="4.6" height="3.3" fill="#fff"/>
<rect x="1133.8" y="420.9" width="4.6" height="2.3" fill="#ddd"/>
<rect x="1133.8" y="425.9" width="4.6" height="2.9" fill="#fff"/>
<line x1="1139.3" y1="414.5" x2="1139.3" y2="429" stroke="#aaa" stroke-width="0.6" />
<path d="M1143.4 419.5 H1151 L1154.3 422.1 L1151 424.7 H1143.4 Z" fill="#555" stroke="#0d0d0d" stroke-width="1.6" stroke-linejoin="round"/>
<rect x="1275.3000000000002" y="397.1" width="9.2" height="3.6" rx="1.6" fill="#0d0d0d"/>
<path d="M1279.9 401.7 L1285.2 407.4 Q1285.2 409.2 1283.5 409.2 H1282.3000000000002 V414.2 Q1282.3000000000002 415.4 1281.1000000000001 415.4 H1278.7 Q1277.5 415.4 1277.5 414.2 V409.2 H1276.3000000000002 Q1274.6000000000001 409.2 1274.6000000000001 407.4 Z" fill="#0d0d0d"/>
<circle cx="1279.9" cy="406.4" r="0.9" stroke="#0d0d0d" stroke-width="0" fill="#bbb" />
<path d="M1271.9 419.4 H1275.5 V417.3 H1278.5 V420 H1280.7 V418 H1286.5 V427 H1280.7 Q1279.9 428 1278.5 427 Q1275.9 428.4 1273.5 426.6 Q1271.9 425 1271.9 422.5 Z" fill="#0d0d0d"/>
<line x1="1279.6" y1="420.5" x2="1279.6" y2="424.5" stroke="#999" stroke-width="0.7" stroke-dasharray="1 1"/>
<path d="M1279.9 441.2 L1285.2 435.5 Q1285.2 433.8 1283.5 433.8 H1282.3000000000002 V430 Q1282.3000000000002 428.8 1281.1000000000001 428.8 H1278.7 Q1277.5 428.8 1277.5 430 V433.8 H1276.3000000000002 Q1274.6000000000001 433.8 1274.6000000000001 435.5 Z" fill="#0d0d0d"/>
<circle cx="1279.9" cy="436.8" r="0.9" stroke="#0d0d0d" stroke-width="0" fill="#bbb" />
<path d="M1277.9 443 H1281.9 V445.4 H1284.3000000000002 V449.4 H1281.9 V451.8 H1277.9 V449.4 H1275.5 V445.4 H1277.9 Z" fill="#0d0d0d" stroke="#0d0d0d" stroke-width="0.8" stroke-linejoin="round"/>
<path d="M1183.9 523.4 L1185.3 529.6 H1196.9 V525" stroke="#0d0d0d" stroke-width="1.8" fill="none" />
<path d="M1213.1 523.4 L1211.7 529.6 H1200.1 V525" stroke="#0d0d0d" stroke-width="1.8" fill="none" />
<line x1="1185.5" y1="526.2" x2="1196.5" y2="526.2" stroke="#555" stroke-width="0.8" />
<line x1="1211.5" y1="526.2" x2="1200.5" y2="526.2" stroke="#555" stroke-width="0.8" />
<line x1="1240.17" y1="404.84" x2="1326.27" y2="369.17" stroke="#1c1c1c" stroke-width="0.9" />
<line x1="1240.17" y1="439.36" x2="1326.27" y2="475.03" stroke="#1c1c1c" stroke-width="0.9" />
<path d="M1321.28 371.24A132.9 132.9 0 0 1 1321.28 472.96" stroke="#333" stroke-width="0.9" fill="none" />
<polygon points="1321.28,371.24 1325.47,379.29 1323.41,380.06" fill="#1c1c1c"/>
<polygon points="1321.28,472.96 1323.41,464.14 1325.47,464.91" fill="#1c1c1c"/>
<text transform="translate(1318.5,430.3) rotate(0) scale(1,1)" font-family="Liberation Sans" font-size="23" font-weight="normal" text-anchor="start" fill="#111" stroke="#111" stroke-width="0.35" textLength="26" lengthAdjust="spacingAndGlyphs">45°</text>
<line x1="1180.38" y1="449.68" x2="1305.67" y2="258.95" stroke="#1c1c1c" stroke-width="0.9" />
<text transform="translate(1259.46,324.55) rotate(-56.7) scale(1,1)" font-family="Liberation Sans" font-size="23" font-weight="normal" text-anchor="start" fill="#111" stroke="#111" stroke-width="0.35" textLength="85" lengthAdjust="spacingAndGlyphs">P.C.D Ø76</text>
<line x1="1240.17" y1="404.84" x2="1340.6" y2="283.75" stroke="#1c1c1c" stroke-width="0.9" />
<text transform="translate(1289.44,339.17) rotate(-50.33) scale(1,1)" font-family="Liberation Sans" font-size="23" font-weight="normal" text-anchor="start" fill="#111" stroke="#111" stroke-width="0.35" textLength="35.6" lengthAdjust="spacingAndGlyphs">8-M6</text>
<text transform="translate(1316.57,306.46) rotate(-50.33) scale(1,1)" font-family="Liberation Sans" font-size="17" font-weight="normal" text-anchor="start" fill="#333" textLength="153" lengthAdjust="spacingAndGlyphs">Evenly distributed</text>
<line x1="1083.1" y1="256.9" x2="1198.5" y2="377.4" stroke="#1c1c1c" stroke-width="0.9" />
<g transform="translate(1089.4,253.8) rotate(45)" font-family="Liberation Sans" fill="#111" stroke="#111">
<text x="0" y="0" font-size="23" stroke-width="0.35" textLength="45" lengthAdjust="spacingAndGlyphs">Ø5H7</text>
<path d="M52 -19.5 Q42.8 -8.3 52 2.9" stroke-width="1.5" fill="none"/>
<text x="55.4" y="-13.6" font-size="15" stroke-width="0.25" textLength="36" lengthAdjust="spacingAndGlyphs">+0.012</text>
<text x="61.7" y="0" font-size="15" stroke-width="0.25" textLength="5.6" lengthAdjust="spacingAndGlyphs">0</text>
<path d="M93.6 -19.5 Q102.8 -8.3 93.6 2.9" stroke-width="1.5" fill="none"/>
</g>
</g>
<g id="side" fill="none">
<path d="M1434 351.4 L1437 350.7 Q1455 350.2 1475 350.6 C1500 351.5 1512 358 1525 361.2 Q1540 363.6 1552 363.8 H1565" stroke="#0d0d0d" stroke-width="2.2" fill="none" />
<path d="M1434.5 352.2 Q1450 351.3 1472 351.2" stroke="#0d0d0d" stroke-width="2.0" fill="none" />
<path d="M1434 492.4 L1437 493.1 Q1455 493.6 1475 493.2 C1500 492.3 1512 485.8 1525 482.6 Q1540 480.2 1552 480 H1565" stroke="#0d0d0d" stroke-width="2.2" fill="none" />
<path d="M1434.5 491.6 Q1450 492.5 1472 492.6" stroke="#0d0d0d" stroke-width="2.0" fill="none" />
<path d="M1553.6 363 H1559.4 Q1560.4 363 1560.4 364 V367 L1557.2 369.6 L1553.6 367 Z" fill="#0d0d0d" stroke="#0d0d0d" stroke-width="0.8"/>
<path d="M1433.8 351.3 A157 157 0 0 0 1433.8 492.5" stroke="#555" stroke-width="0.9" fill="none" />
<path d="M1472.5 350.15 A72 72 0 0 1 1472.5 493.65" stroke="#0d0d0d" stroke-width="2.2" fill="none" />
<path d="M1416.4 407.4 Q1424.6 413 1424.4 420.5 Q1424 428 1417.6 433" stroke="#0d0d0d" stroke-width="2.2" fill="none" />
<path d="M1431.9 406.6 H1472.3 C1482 406.6 1487.6 411 1487.6 417.4 C1487.6 424 1482 428.6 1472.3 428.6 H1461.3 L1460.4 435.7 H1453 L1454.8 421 H1474.1 C1477.8 421 1479.6 419.6 1479.6 417.6 C1479.6 415.6 1477.8 414.2 1474.7 414.2 H1443.8 L1441.1 435.7 H1433.4 L1435.9 414.2 H1427 Z" stroke="#0d0d0d" stroke-width="2.2" fill="none" />
<path d="M1536.6 403.6 H1545.4 Q1546.6 403.6 1546.6 404.8 V439 Q1546.6 440.2 1545.4 440.2 H1536.6" stroke="#0d0d0d" stroke-width="2.2" fill="none" />
<rect x="1539.6" y="419.6" width="7.6" height="4.6" stroke="#222" stroke-width="1.0" fill="#666" />
<line x1="1547.4" y1="416" x2="1547.4" y2="428" stroke="#222" stroke-width="1.0" />
<line x1="1564.6" y1="363.8" x2="1564.6" y2="480" stroke="#0d0d0d" stroke-width="2.3" />
<path d="M1564.6 368.2 H1576.6 V475.6 H1564.6" stroke="#0d0d0d" stroke-width="2.0" fill="none" />
<line x1="1575.2" y1="372" x2="1575.2" y2="472" stroke="#0d0d0d" stroke-width="0.9" />
<path d="M1576.6 370.8 H1580 Q1581 370.8 1581 371.8 V377 Q1581 378 1580 378 H1576.6" stroke="#0d0d0d" stroke-width="1.7" fill="none" />
<rect x="1577.4" y="372.8" width="2.4" height="3.2" stroke="#0d0d0d" stroke-width="0" fill="#444" />
<path d="M1576.6 382 H1580 Q1581 382 1581 383 V389.4 Q1581 390.4 1580 390.4 H1576.6" stroke="#0d0d0d" stroke-width="1.7" fill="none" />
<rect x="1577.4" y="384" width="2.4" height="4.4" stroke="#0d0d0d" stroke-width="0" fill="#444" />
<path d="M1576.6 404.6 H1580 Q1581 404.6 1581 405.6 V412.4 Q1581 413.4 1580 413.4 H1576.6" stroke="#0d0d0d" stroke-width="1.7" fill="none" />
<rect x="1577.4" y="406.6" width="2.4" height="4.8" stroke="#0d0d0d" stroke-width="0" fill="#444" />
<path d="M1576.6 430.4 H1580 Q1581 430.4 1581 431.4 V438.2 Q1581 439.2 1580 439.2 H1576.6" stroke="#0d0d0d" stroke-width="1.7" fill="none" />
<rect x="1577.4" y="432.4" width="2.4" height="4.8" stroke="#0d0d0d" stroke-width="0" fill="#444" />
<path d="M1576.6 453.4 H1580 Q1581 453.4 1581 454.4 V461.2 Q1581 462.2 1580 462.2 H1576.6" stroke="#0d0d0d" stroke-width="1.7" fill="none" />
<rect x="1577.4" y="455.4" width="2.4" height="4.8" stroke="#0d0d0d" stroke-width="0" fill="#444" />
<path d="M1576.6 466 H1580 Q1581 466 1581 467 V472 Q1581 473 1580 473 H1576.6" stroke="#0d0d0d" stroke-width="1.7" fill="none" />
<rect x="1577.4" y="468" width="2.4" height="3" stroke="#0d0d0d" stroke-width="0" fill="#444" />
<path d="M1580.8 378 H1584 M1580.8 466 H1584" stroke="#0d0d0d" stroke-width="1.8" fill="none" />
<path d="M1608.2 368.2 H1583.8 V475.6 H1608.2" stroke="#0d0d0d" stroke-width="2.1" fill="none" />
<line x1="1608" y1="368.2" x2="1608" y2="475.6" stroke="#0d0d0d" stroke-width="2.0" />
<clipPath id="hatchclip"><path d="M1596.5 368.2 Q1596.3 376 1597.3 382 Q1598.6 391 1600.5 400 Q1600.4 412 1595.7 423.8 Q1594.2 432 1595 439.7 Q1595.6 450 1597.3 458.9 Q1599 468 1602 475.6 H1607.4 V368.2 Z"/></clipPath>
<g clip-path="url(#hatchclip)">
<line x1="1592" y1="342.4" x2="1612" y2="325.6" stroke="#161616" stroke-width="1.5" />
<line x1="1592" y1="346.9" x2="1612" y2="330.1" stroke="#161616" stroke-width="1.5" />
<line x1="1592" y1="351.4" x2="1612" y2="334.6" stroke="#161616" stroke-width="1.5" />
<line x1="1592" y1="355.9" x2="1612" y2="339.1" stroke="#161616" stroke-width="1.5" />
<line x1="1592" y1="360.4" x2="1612" y2="343.6" stroke="#161616" stroke-width="1.5" />
<line x1="1592" y1="364.9" x2="1612" y2="348.1" stroke="#161616" stroke-width="1.5" />
<line x1="1592" y1="369.4" x2="1612" y2="352.6" stroke="#161616" stroke-width="1.5" />
<line x1="1592" y1="373.9" x2="1612" y2="357.1" stroke="#161616" stroke-width="1.5" />
<line x1="1592" y1="378.4" x2="1612" y2="361.6" stroke="#161616" stroke-width="1.5" />
<line x1="1592" y1="382.9" x2="1612" y2="366.1" stroke="#161616" stroke-width="1.5" />
<line x1="1592" y1="387.4" x2="1612" y2="370.6" stroke="#161616" stroke-width="1.5" />
<line x1="1592" y1="391.9" x2="1612" y2="375.1" stroke="#161616" stroke-width="1.5" />
<line x1="1592" y1="396.4" x2="1612" y2="379.6" stroke="#161616" stroke-width="1.5" />
<line x1="1592" y1="400.9" x2="1612" y2="384.1" stroke="#161616" stroke-width="1.5" />
<line x1="1592" y1="405.4" x2="1612" y2="388.6" stroke="#161616" stroke-width="1.5" />
<line x1="1592" y1="409.9" x2="1612" y2="393.1" stroke="#161616" stroke-width="1.5" />
<line x1="1592" y1="414.4" x2="1612" y2="397.6" stroke="#161616" stroke-width="1.5" />
<line x1="1592" y1="418.9" x2="1612" y2="402.1" stroke="#161616" stroke-width="1.5" />
<line x1="1592" y1="423.4" x2="1612" y2="406.6" stroke="#161616" stroke-width="1.5" />
<line x1="1592" y1="427.9" x2="1612" y2="411.1" stroke="#161616" stroke-width="1.5" />
<line x1="1592" y1="432.4" x2="1612" y2="415.6" stroke="#161616" stroke-width="1.5" />
<line x1="1592" y1="436.9" x2="1612" y2="420.1" stroke="#161616" stroke-width="1.5" />
<line x1="1592" y1="441.4" x2="1612" y2="424.6" stroke="#161616" stroke-width="1.5" />
<line x1="1592" y1="445.9" x2="1612" y2="429.1" stroke="#161616" stroke-width="1.5" />
<line x1="1592" y1="450.4" x2="1612" y2="433.6" stroke="#161616" stroke-width="1.5" />
<line x1="1592" y1="454.9" x2="1612" y2="438.1" stroke="#161616" stroke-width="1.5" />
<line x1="1592" y1="459.4" x2="1612" y2="442.6" stroke="#161616" stroke-width="1.5" />
<line x1="1592" y1="463.9" x2="1612" y2="447.1" stroke="#161616" stroke-width="1.5" />
<line x1="1592" y1="468.4" x2="1612" y2="451.6" stroke="#161616" stroke-width="1.5" />
<line x1="1592" y1="472.9" x2="1612" y2="456.1" stroke="#161616" stroke-width="1.5" />
<line x1="1592" y1="477.4" x2="1612" y2="460.6" stroke="#161616" stroke-width="1.5" />
<line x1="1592" y1="481.9" x2="1612" y2="465.1" stroke="#161616" stroke-width="1.5" />
<line x1="1592" y1="486.4" x2="1612" y2="469.6" stroke="#161616" stroke-width="1.5" />
<line x1="1592" y1="490.9" x2="1612" y2="474.1" stroke="#161616" stroke-width="1.5" />
<line x1="1592" y1="495.4" x2="1612" y2="478.6" stroke="#161616" stroke-width="1.5" />
<line x1="1592" y1="499.9" x2="1612" y2="483.1" stroke="#161616" stroke-width="1.5" />
<line x1="1592" y1="504.4" x2="1612" y2="487.6" stroke="#161616" stroke-width="1.5" />
<line x1="1592" y1="508.9" x2="1612" y2="492.1" stroke="#161616" stroke-width="1.5" />
<line x1="1592" y1="513.4" x2="1612" y2="496.6" stroke="#161616" stroke-width="1.5" />
<line x1="1592" y1="517.9" x2="1612" y2="501.1" stroke="#161616" stroke-width="1.5" />
<line x1="1592" y1="522.4" x2="1612" y2="505.6" stroke="#161616" stroke-width="1.5" />
<line x1="1592" y1="526.9" x2="1612" y2="510.1" stroke="#161616" stroke-width="1.5" />
<line x1="1592" y1="531.4" x2="1612" y2="514.6" stroke="#161616" stroke-width="1.5" />
<line x1="1592" y1="535.9" x2="1612" y2="519.1" stroke="#161616" stroke-width="1.5" />
</g>
<path d="M1596.5 368.2 Q1596.3 376 1597.3 382 Q1598.6 391 1600.5 400 Q1600.4 412 1595.7 423.8 Q1594.2 432 1595 439.7 Q1595.6 450 1597.3 458.9 Q1599 468 1602 475.6" stroke="#222" stroke-width="1.0" fill="none" />
<rect x="1597" y="371.8" width="10" height="3.4" stroke="#0d0d0d" stroke-width="0" fill="#fff" />
<line x1="1593" y1="376.4" x2="1611.4" y2="376.4" stroke="#222" stroke-width="0.8" />
<line x1="1593" y1="378.1" x2="1611.4" y2="378.1" stroke="#222" stroke-width="0.8" />
<line x1="1596.5" y1="372" x2="1608" y2="372" stroke="#222" stroke-width="1.0" />
<line x1="1605.6" y1="400.4" x2="1605.6" y2="443.2" stroke="#1a1a1a" stroke-width="2.8" />
<line x1="1466.5" y1="322.5" x2="1466.5" y2="347.5" stroke="#1c1c1c" stroke-width="1.0" />
<line x1="1466.5" y1="352.5" x2="1466.5" y2="362" stroke="#1c1c1c" stroke-width="1.0" />
<line x1="1466.5" y1="368.8" x2="1466.5" y2="429.4" stroke="#1c1c1c" stroke-width="1.0" />
<line x1="1466.5" y1="432.5" x2="1466.5" y2="475" stroke="#1c1c1c" stroke-width="1.0" />
<line x1="1466.5" y1="482.5" x2="1466.5" y2="489.4" stroke="#1c1c1c" stroke-width="1.0" />
<line x1="1466.5" y1="496.3" x2="1466.5" y2="521.3" stroke="#1c1c1c" stroke-width="1.0" />
<line x1="1410.6" y1="421.9" x2="1477.5" y2="421.9" stroke="#1c1c1c" stroke-width="1.0" />
<line x1="1487.5" y1="421.9" x2="1502.5" y2="421.9" stroke="#1c1c1c" stroke-width="1.0" />
<line x1="1508.8" y1="421.9" x2="1516.3" y2="421.9" stroke="#1c1c1c" stroke-width="1.0" />
<line x1="1522.5" y1="421.9" x2="1530" y2="421.9" stroke="#1c1c1c" stroke-width="1.0" />
<line x1="1548.8" y1="421.9" x2="1566.3" y2="421.9" stroke="#1c1c1c" stroke-width="1.0" />
<line x1="1573" y1="421.9" x2="1580.6" y2="421.9" stroke="#1c1c1c" stroke-width="1.0" />
<line x1="1587.5" y1="421.9" x2="1616.3" y2="421.9" stroke="#1c1c1c" stroke-width="1.0" />
<line x1="1608" y1="368.7" x2="1620" y2="368.7" stroke="#1c1c1c" stroke-width="0.9" />
<line x1="1652.6" y1="368.7" x2="1704" y2="368.7" stroke="#1c1c1c" stroke-width="0.9" />
<line x1="1608" y1="475.3" x2="1704" y2="475.3" stroke="#1c1c1c" stroke-width="0.9" />
<line x1="1608" y1="400.6" x2="1657.8" y2="400.6" stroke="#1c1c1c" stroke-width="0.9" />
<line x1="1608" y1="443.1" x2="1657.8" y2="443.1" stroke="#1c1c1c" stroke-width="0.9" />
<line x1="1653.5" y1="282.8" x2="1653.5" y2="457.4" stroke="#1c1c1c" stroke-width="0.9" />
<polygon points="1653.5,400.6 1652.4,392.6 1654.6,392.6" fill="#1c1c1c"/>
<polygon points="1653.5,443.1 1654.6,451.1 1652.4,451.1" fill="#1c1c1c"/>
<line x1="1699" y1="368.7" x2="1699" y2="475.3" stroke="#1c1c1c" stroke-width="0.9" />
<polygon points="1699,368.7 1700.1,376.7 1697.9,376.7" fill="#1c1c1c"/>
<polygon points="1699,475.3 1697.9,467.3 1700.1,467.3" fill="#1c1c1c"/>
<g transform="translate(1647.6,389.8) rotate(-90)" font-family="Liberation Sans" fill="#111" stroke="#111">
<text x="0" y="0" font-size="23" stroke-width="0.35" textLength="53.4" lengthAdjust="spacingAndGlyphs">Ø36H8</text>
<path d="M60.4 -19.5 Q51.2 -8.3 60.4 2.9" stroke-width="1.5" fill="none"/>
<text x="63.8" y="-13.6" font-size="15" stroke-width="0.25" textLength="36" lengthAdjust="spacingAndGlyphs">+0.039</text>
<text x="70.1" y="0" font-size="15" stroke-width="0.25" textLength="5.6" lengthAdjust="spacingAndGlyphs">0</text>
<path d="M102 -19.5 Q111.2 -8.3 102 2.9" stroke-width="1.5" fill="none"/>
</g>
<g transform="translate(1693.2,473.4) rotate(-90)" font-family="Liberation Sans" fill="#111" stroke="#111">
<text x="0" y="0" font-size="23" stroke-width="0.35" textLength="53.6" lengthAdjust="spacingAndGlyphs">Ø90h7</text>
<path d="M60.6 -19.5 Q51.4 -8.3 60.6 2.9" stroke-width="1.5" fill="none"/>
<text x="70.3" y="-13.6" font-size="15" stroke-width="0.25" textLength="5.6" lengthAdjust="spacingAndGlyphs">0</text>
<text x="64" y="0" font-size="15" stroke-width="0.25" textLength="36" lengthAdjust="spacingAndGlyphs">-0.035</text>
<path d="M102.2 -19.5 Q111.4 -8.3 102.2 2.9" stroke-width="1.5" fill="none"/>
</g>
<line x1="1604.8" y1="475.6" x2="1604.8" y2="507.5" stroke="#1c1c1c" stroke-width="0.9" />
<line x1="1608.1" y1="475.6" x2="1608.1" y2="507.5" stroke="#1c1c1c" stroke-width="0.9" />
<line x1="1590.6" y1="502" x2="1652.4" y2="502" stroke="#1c1c1c" stroke-width="0.9" />
<polygon points="1604.8,502 1596.8,503.1 1596.8,500.9" fill="#1c1c1c"/>
<polygon points="1608.1,502 1616.1,500.9 1616.1,503.1" fill="#1c1c1c"/>
<text transform="translate(1648.3,499.6) rotate(0) scale(0.69,1)" font-family="Liberation Sans" font-size="23" font-weight="normal" text-anchor="middle" fill="#111" stroke="#111" stroke-width="0.35">3</text>
</g>
<text x="376" y="701.3" font-family="Liberation Sans" font-size="22" fill="#6a6a6a" textLength="353.5" lengthAdjust="spacingAndGlyphs">Installation Dimension of Base</text>
<text x="1381.2" y="700.8" font-family="Liberation Sans" font-size="22" fill="#6a6a6a" textLength="220.5" lengthAdjust="spacingAndGlyphs">Flange Dimensions</text>
</svg>
</body></html>
